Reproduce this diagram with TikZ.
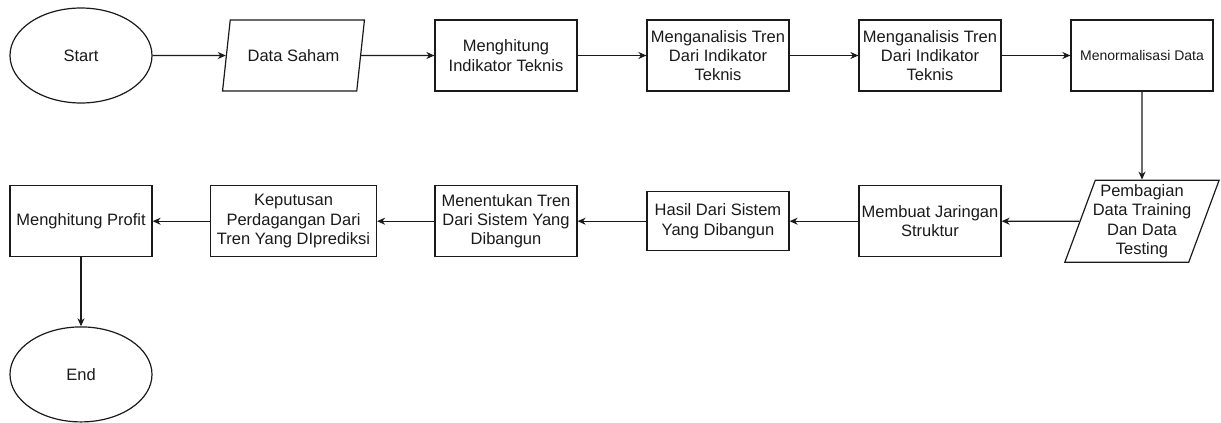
\documentclass[tikz,border=0pt]{standalone}
\usepackage{fontspec}
\setmainfont{Liberation Sans}
\usepackage{xcolor}
\usetikzlibrary{arrows.meta,positioning,shapes.geometric,calc}
\definecolor{linegray}{HTML}{1A1A1A}
\tikzset{
  flow/.style={-{Stealth[length=8pt,width=7pt,inset=2.5pt]}, line width=1.2pt, draw=linegray},
  box/.style={rectangle, draw=linegray, line width=1.2pt, align=center, inner sep=1pt,
              minimum width=142pt, minimum height=71pt, text=linegray,
              font=\fontsize{16.5}{19.3}\selectfont},
  termbox/.style={box, ellipse, minimum height=95pt},
  iobox/.style={box, trapezium, trapezium left angle=68, trapezium right angle=112,
                trapezium stretches=true}
}
\begin{document}
\begin{tikzpicture}[x=1pt, y=1pt, node distance=88pt and 68.8pt]
  \useasboundingbox (0,0) rectangle (1221,-423);
  \node[termbox] (start) at (81,-55.5) {Start};
  \node[box, right=281.8pt of start] (count) {Menghitung\\Indikator Teknis};
  \node[iobox] (saham) at ($(start)!0.5!(count)$) {Data Saham};
  \node[box, right=of count] (trend1) {Menganalisis Tren\\Dari Indikator\\Teknis};
  \node[box, right=of trend1] (trend2) {Menganalisis Tren\\Dari Indikator\\Teknis};
  \node[box, right=of trend2, font=\fontsize{14}{16.5}\selectfont] (norm) {Menormalisasi Data};

  \node[iobox, below=of norm, inner xsep=-2.5pt, minimum height=82pt] (split) {Pembagian\\Data Training\\Dan Data\\Testing};
  \node[box] (build) at (trend2 |- split) {Membuat Jaringan\\Struktur};
  \node[box, minimum height=59pt] (result) at (trend1 |- split) {Hasil Dari Sistem\\Yang Dibangun};
  \node[box] (decide) at (count |- split) {Menentukan Tren\\Dari Sistem Yang\\Dibangun};
  \node[box, minimum width=166pt] (trade) at (saham |- split) {Keputusan\\Perdagangan Dari\\Tren Yang DIprediksi};
  \node[box] (profit) at (start |- split) {Menghitung Profit};
  \node[termbox, below=69pt of profit] (stop) {End};

  \draw[flow] (start) -- (saham);
  \draw[flow] (saham) -- (count);
  \draw[flow] (count) -- (trend1);
  \draw[flow] (trend1) -- (trend2);
  \draw[flow] (trend2) -- (norm);
  \draw[flow] (norm) -- (split);
  \draw[flow] (split) -- (build);
  \draw[flow] (build) -- (result);
  \draw[flow] (result) -- (decide);
  \draw[flow] (decide) -- (trade);
  \draw[flow] (trade) -- (profit);
  \draw[flow] (profit) -- (stop);
\end{tikzpicture}
\end{document}
